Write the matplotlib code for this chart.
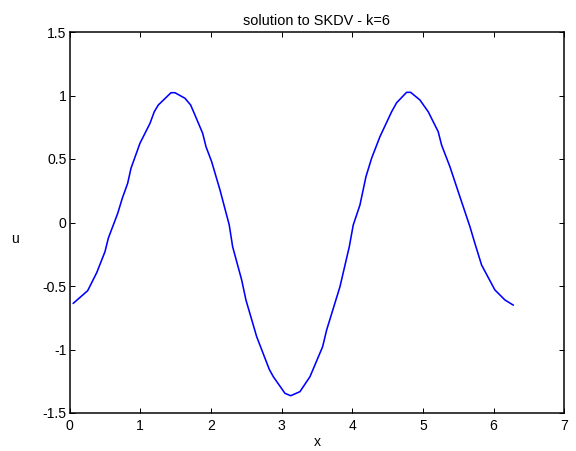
import matplotlib
matplotlib.use("Agg")
import matplotlib.pyplot as plt

x_vals = [0.054, 0.257, 0.385, 0.502, 0.549, 0.682, 0.747, 0.823, 0.870, 0.997,
          1.139, 1.199, 1.256, 1.436, 1.492, 1.634, 1.714, 1.775, 1.884, 1.931,
          2.011, 2.129, 2.260, 2.308, 2.436, 2.496, 2.648, 2.826, 2.883, 3.048,
          3.129, 3.260, 3.402, 3.581, 3.638, 3.826, 3.958, 4.014, 4.109, 4.194,
          4.274, 4.392, 4.557, 4.628, 4.769, 4.826, 4.957, 5.075, 5.216, 5.264,
          5.382, 5.523, 5.665, 5.735, 5.830, 6.018, 6.160, 6.277]
u_vals = [-0.636, -0.537, -0.395, -0.230, -0.124, 0.072, 0.191, 0.309, 0.427, 0.624,
          0.781, 0.872, 0.925, 1.022, 1.022, 0.978, 0.925, 0.846, 0.702, 0.597,
          0.479, 0.256, -0.020, -0.191, -0.453, -0.610, -0.899, -1.156, -1.214, -1.345,
          -1.364, -1.332, -1.214, -0.978, -0.846, -0.506, -0.191, -0.020, 0.138, 0.361,
          0.506, 0.676, 0.872, 0.943, 1.025, 1.025, 0.965, 0.872, 0.715, 0.610,
          0.439, 0.203, -0.033, -0.164, -0.335, -0.531, -0.610, -0.650]

x_ticks = [0, 1, 2, 3, 4, 5, 6, 7]
y_ticks = [-1.5, -1, -0.5, 0, 0.5, 1, 1.5]
y_tick_labels = ["-1.5", "-1", "-0.5", "0", "0.5", "1", "1.5"]

plt.rcParams['font.family'] = ['Liberation Sans', 'DejaVu Sans']
fig = plt.figure(figsize=(576/72, 451/72), dpi=72)
ax = fig.add_axes([69.5/576, 1 - 413/451, (564.3 - 69.5)/576, (413 - 32)/451])
ax.plot(x_vals, u_vals, color=(0, 0, 1), linewidth=1.6)
ax.set_xlim(0, 7)
ax.set_ylim(-1.5, 1.5)
ax.set_xticks(x_ticks)
ax.set_xticklabels([str(t) for t in x_ticks])
ax.set_yticks(y_ticks)
ax.set_yticklabels(y_tick_labels)
ax.tick_params(direction='in', top=True, right=True, length=5, width=1, labelsize=14)
ax.tick_params(axis='x', pad=6)
ax.tick_params(axis='y', pad=3)
for s in ax.spines.values():
    s.set_linewidth(1.5)
ax.set_xlabel('x', fontsize=14, labelpad=2)
ax.set_ylabel('u', fontsize=14, rotation=0, va='center', ha='center')
ax.yaxis.set_label_coords((15 - 69.5) / (564.3 - 69.5), (413 - 239) / (413 - 32))
ax.set_title('solution to SKDV - k=6', fontsize=14.5, pad=7)
fig.savefig('out.png', dpi=72)
